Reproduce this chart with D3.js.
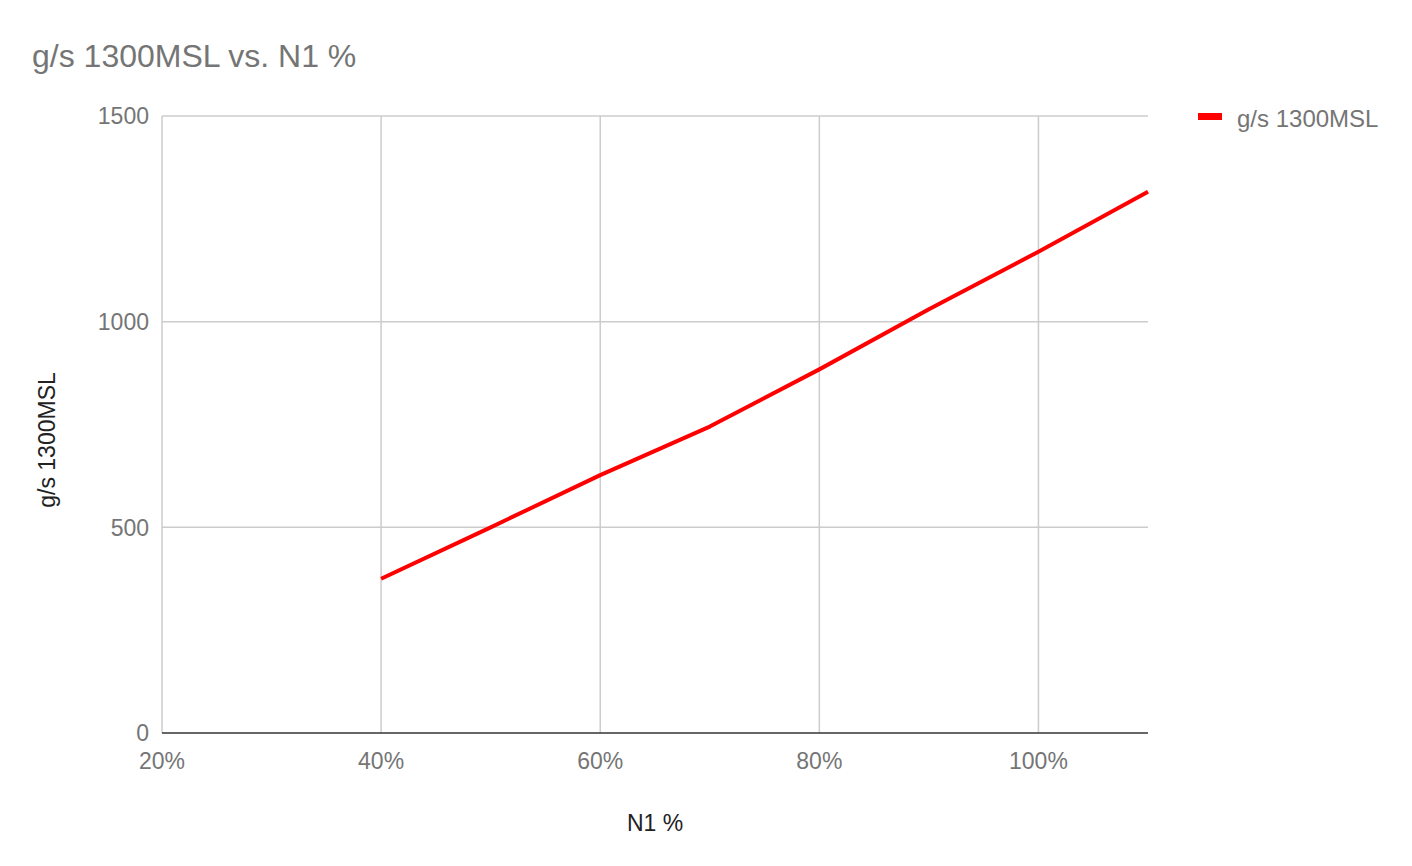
<!DOCTYPE html>
<html><head><meta charset="utf-8">
<script src="https://cdn.jsdelivr.net/npm/d3@7"></script>
<style>body{margin:0;background:#fff;} svg{display:block;font-family:"Liberation Sans",Arial,sans-serif;}</style>
</head><body>
<svg id="chart" width="1412" height="866"></svg>
<script>
const n1Percent = [40, 50, 60, 70, 80, 90, 100, 110];
const gramsPerSec = [375, 500, 627, 745, 884, 1030, 1170, 1316];
const xTicks = [20, 40, 60, 80, 100];
const yTicks = [0, 500, 1000, 1500];
const seriesName = "g/s 1300MSL";
const chartTitle = "g/s 1300MSL vs. N1 %";
const xTitle = "N1 %";

const svg = d3.select("#chart");
const m = {left:162, right:1148, top:116, bottom:733};
const x = d3.scaleLinear().domain([20,110]).range([m.left, m.right]);
const y = d3.scaleLinear().domain([0,1500]).range([m.bottom, m.top]);

// gridlines
svg.append("g").selectAll("line").data(yTicks.filter(d=>d>0)).join("line")
  .attr("x1", m.left).attr("x2", m.right)
  .attr("y1", d=>y(d)).attr("y2", d=>y(d))
  .attr("stroke", "#cccccc").attr("stroke-width", 1.5);
svg.append("g").selectAll("line").data(xTicks).join("line")
  .attr("x1", d=>x(d)).attr("x2", d=>x(d))
  .attr("y1", m.top).attr("y2", m.bottom)
  .attr("stroke", "#cccccc").attr("stroke-width", 1.5);

// baseline
svg.append("line").attr("x1", m.left).attr("x2", m.right)
  .attr("y1", y(0)).attr("y2", y(0)).attr("stroke", "#333333").attr("stroke-width", 1.5);

// tick labels
svg.append("g").selectAll("text").data(yTicks).join("text")
  .attr("x", m.left - 13).attr("y", d=>y(d)).attr("dy", "0.36em")
  .attr("text-anchor", "end").attr("fill", "#757575").attr("font-size", 23)
  .text(d=>d);
svg.append("g").selectAll("text").data(xTicks).join("text")
  .attr("x", d=>x(d)).attr("y", 769)
  .attr("text-anchor", "middle").attr("fill", "#757575").attr("font-size", 23)
  .text(d=>d + "%");

// line
const line = d3.line().x((d,i)=>x(n1Percent[i])).y(d=>y(d));
svg.append("path").datum(gramsPerSec).attr("d", line)
  .attr("fill", "none").attr("stroke", "#ff0000").attr("stroke-width", 4)
  .attr("stroke-linejoin", "round");

// title
svg.append("text").attr("x", 32).attr("y", 67).attr("fill", "#757575")
  .attr("font-size", 32).text(chartTitle);

// axis titles
svg.append("text").attr("x", (m.left+m.right)/2).attr("y", 831)
  .attr("text-anchor", "middle").attr("fill", "#222222").attr("font-size", 23).text(xTitle);
svg.append("text").attr("transform", "translate(55,440) rotate(-90)")
  .attr("text-anchor", "middle").attr("fill", "#222222").attr("font-size", 23).text(seriesName);

// legend
svg.append("rect").attr("x", 1198).attr("y", 113).attr("width", 24).attr("height", 7).attr("fill", "#ff0000");
svg.append("text").attr("x", 1237).attr("y", 127).attr("fill", "#757575")
  .attr("font-size", 24).text(seriesName);
</script>
</body></html>
